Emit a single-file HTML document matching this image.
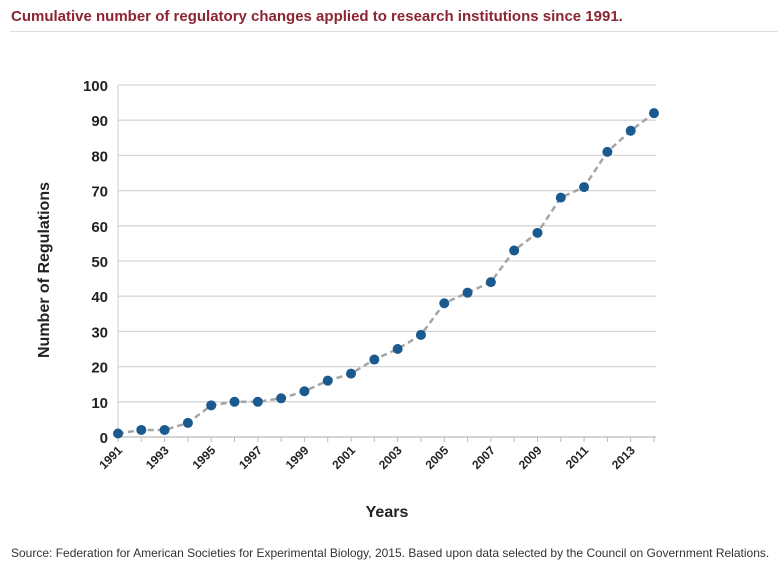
<!DOCTYPE html>
<html><head><meta charset="utf-8"><style>
body{margin:0;width:784px;height:580px;background:#fff;font-family:"Liberation Sans",Arial,sans-serif;overflow:hidden;position:relative}
#title{position:absolute;left:11px;top:8px;font-size:15px;font-weight:bold;color:#8c2532;white-space:nowrap}
#rule{position:absolute;left:10px;top:31px;width:768px;height:1px;background:#ddd}
#src{position:absolute;left:11px;top:546px;font-size:12px;color:#333;white-space:nowrap}
</style></head><body>
<div id="title">Cumulative number of regulatory changes applied to research institutions since 1991.</div>
<div id="rule"></div>
<svg id="chart" width="784" height="580" style="position:absolute;left:0;top:0"></svg>
<div id="src">Source: Federation for American Societies for Experimental Biology, 2015. Based upon data selected by the Council on Government Relations.</div>
<script>
const years=[1991,1992,1993,1994,1995,1996,1997,1998,1999,2000,2001,2002,2003,2004,2005,2006,2007,2008,2009,2010,2011,2012,2013,2014];
const values=[1,2,2,4,9,10,10,11,13,16,18,22,25,29,38,41,44,53,58,68,71,81,87,92];
const yTicks=[0,10,20,30,40,50,60,70,80,90,100];
const xLabels=[1991,1993,1995,1997,1999,2001,2003,2005,2007,2009,2011,2013];
const NS="http://www.w3.org/2000/svg";
const svg=document.getElementById('chart');
const x0=118,x1=654,y0=437,y1=85;
function xs(v){return x0+(v-years[0])/(years[years.length-1]-years[0])*(x1-x0);}
function ys(v){return y0-v/100*(y0-y1);}
function mk(t,a,p){const e=document.createElementNS(NS,t);for(const k in a)e.setAttribute(k,a[k]);(p||svg).appendChild(e);return e;}
yTicks.forEach(t=>{
 const l=mk('line',{x1:x0,x2:656,y1:ys(t),y2:ys(t),stroke:t===0?'#bbb':'#d6d6d6','stroke-width':1.3});
 
 
 const tx=mk('text',{x:108,y:ys(t)+6,'text-anchor':'end','font-size':15,'font-weight':'bold',fill:'#222','font-family':'Liberation Sans, sans-serif'});
 tx.textContent=t;
 
 
});
const ax=mk('line',{x1:x0,x2:x0,y1:y1,y2:y0,stroke:'#ccc','stroke-width':1});


years.forEach(yr=>{
 const t=mk('line',{x1:xs(yr),x2:xs(yr),y1:y0,y2:y0+5,stroke:'#bbb'});
 
 
});
xLabels.forEach(yr=>{
 const x=xs(yr)+5,y=y0+14;
 const tx=mk('text',{x:x,y:y,'text-anchor':'end','font-size':12,'font-weight':'bold',fill:'#222',transform:`rotate(-45 ${x} ${y})`,'font-family':'Liberation Sans, sans-serif'});
 tx.textContent=yr;
 
 
});
const pl=mk('polyline',{points:years.map((y,i)=>xs(y)+','+ys(values[i])).join(' '),fill:'none',stroke:'#a5a5a5','stroke-width':2.5,'stroke-dasharray':'6,4'});


years.forEach((y,i)=>{
 const c=mk('circle',{cx:xs(y),cy:ys(values[i]),r:5,fill:'#1b5a8e'});
 
 
});
const xt=mk('text',{x:387,y:517,'text-anchor':'middle','font-size':16,'font-weight':'bold',fill:'#222','font-family':'Liberation Sans, sans-serif'});
xt.textContent='Years';


const yt=mk('text',{x:0,y:0,'text-anchor':'middle','font-size':16,'font-weight':'bold',fill:'#222',transform:'translate(49 270) rotate(-90)','font-family':'Liberation Sans, sans-serif'});
yt.textContent='Number of Regulations';


</script>
</body></html>
